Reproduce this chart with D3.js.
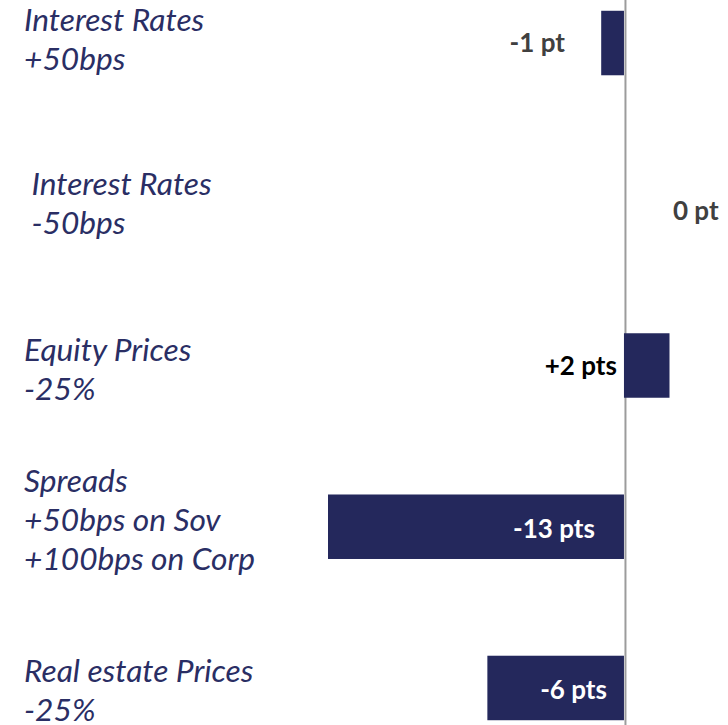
<!DOCTYPE html>
<html lang="en-US">
<head>
<meta charset="utf-8">
<style>
  html, body { margin: 0; padding: 0; background: #fff; }
  svg { display: block; }
  .cat { font-family: Lato, "Open Sans", sans-serif; font-style: italic; font-size: 31.7px; fill: #2a2e64; white-space: pre; }
  .val { font-family: Lato, "Open Sans", sans-serif; font-weight: bold; font-size: 26px; }
</style>
</head>
<body>
<div id="chart"></div>
<script src="https://cdnjs.cloudflare.com/ajax/libs/d3/7.8.5/d3.min.js"></script>
<script>
  var WIDTH = 728;
  var HEIGHT = 725;

  // stress scenarios (label lines) and impact in points
  var categories = [
    ["Interest Rates", "+50bps"],
    [" Interest Rates", " -50bps"],
    ["Equity Prices", "-25%"],
    ["Spreads", "+50bps on Sov", "+100bps on Corp"],
    ["Real estate Prices", "-25%"]
  ];
  var impacts = [-1, 0, 2, -13, -6];

  var keys = categories.map(function (c, i) { return "c" + i; });

  var svg = d3.select("#chart").append("svg")
    .attr("width", WIDTH).attr("height", HEIGHT);

  // bars reach past the visible frame a bit, like the original crop
  var y = d3.scaleBand().domain(keys).range([-37.6, 768.6])
    .paddingInner(0.6).paddingOuter(0.3);
  var x = d3.scaleLinear().domain([-13, 2]).range([328, 669.5]);

  // zero line
  svg.append("g")
    .attr("transform", "translate(" + (x(0) + 1) + ",0)")
    .call(d3.axisLeft(y).tickSize(0).tickSizeOuter(0).tickFormat(""))
    .call(function (g) {
      g.select(".domain").attr("stroke", "#9c9c9c").attr("stroke-width", 2);
    });

  // bars
  svg.selectAll("rect.bar")
    .data(impacts)
    .join("rect")
    .attr("class", "bar")
    .attr("x", function (d) { return x(Math.min(0, d)); })
    .attr("y", function (d, i) { return y(keys[i]); })
    .attr("width", function (d) { return Math.abs(x(d) - x(0)); })
    .attr("height", y.bandwidth())
    .attr("fill", function (d) { return d === 0 ? "none" : "#24285c"; });

  // category labels, multi-line
  var lineH = 39;
  var labelShift = [-3, 0, 5, -6, 4];
  var cat = svg.selectAll("text.cat")
    .data(categories)
    .join("text")
    .attr("class", "cat")
    .attr("x", 24)
    .attr("y", function (d, i) {
      var mid = y(keys[i]) + y.bandwidth() / 2;
      return mid - (d.length - 1) * lineH / 2 + 10 + labelShift[i];
    });
  cat.selectAll("tspan")
    .data(function (d) { return d; })
    .join("tspan")
    .attr("x", 24)
    .attr("dy", function (d, j) { return j === 0 ? 0 : lineH; })
    .text(function (d) { return d; });

  // value labels (hand placed in the original, so nudged per row)
  function fmt(v) {
    var s = v > 0 ? "+" + v : String(v);
    return s + (Math.abs(v) <= 1 ? " pt" : " pts");
  }
  var valNudge = [-59, 49, -7, -29, -17];
  var valColor = ["#404040", "#404040", "#000000", "#ffffff", "#ffffff"];
  var valDy = [0, 7, 0, 2, 2];
  svg.selectAll("text.val")
    .data(impacts)
    .join("text")
    .attr("class", "val")
    .attr("x", function (d, i) { return x(0) + valNudge[i]; })
    .attr("y", function (d, i) { return y(keys[i]) + y.bandwidth() / 2 + 9 + valDy[i]; })
    .attr("text-anchor", function (d, i) { return valNudge[i] > 0 ? "start" : "end"; })
    .attr("fill", function (d, i) { return valColor[i]; })
    .text(fmt);
</script>
</body>
</html>
